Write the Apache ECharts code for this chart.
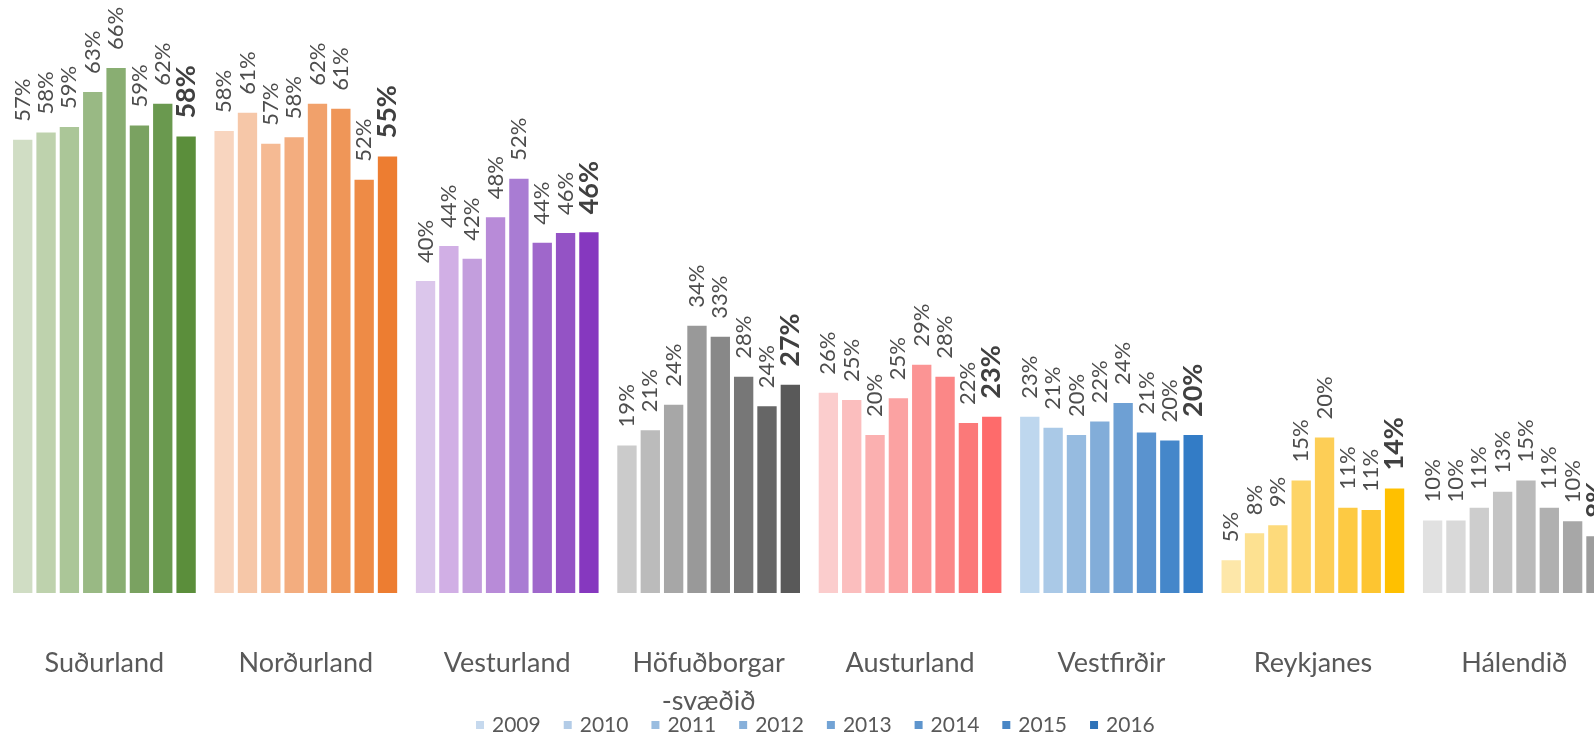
<!DOCTYPE html>
<html>
<head>
<meta charset="utf-8">
<script src="https://cdn.jsdelivr.net/npm/echarts@6/dist/echarts.min.js"></script>
<style>
html,body{margin:0;padding:0;background:#fff;overflow:hidden;width:1594px;height:736px;}
#chart{width:1615px;height:736px;}
</style>
</head>
<body>
<div id="chart"></div>
<script>
// ---- data ----
const categories = ['Suðurland','Norðurland','Vesturland','Höfuðborgar-svæðið','Austurland','Vestfirðir','Reykjanes','Hálendið'];
const years = ['2009','2010','2011','2012','2013','2014','2015','2016'];
// values (%) per region, 2009..2016
const sudurland   = [57.3, 58.2, 58.9, 63.3, 66.3, 59.1, 61.8, 57.7];
const nordurland  = [58.4, 60.7, 56.8, 57.6, 61.8, 61.2, 52.3, 55.2];
const vesturland  = [39.6, 44.0, 42.4, 47.6, 52.4, 44.4, 45.6, 45.7];
const hofudborg   = [19.0, 20.9, 24.1, 34.0, 32.6, 27.6, 23.9, 26.6];
const austurland  = [25.6, 24.7, 20.3, 24.9, 29.1, 27.6, 21.8, 22.6];
const vestfirdir  = [22.6, 21.2, 20.3, 22.0, 24.3, 20.6, 19.6, 20.3];
const reykjanes   = [4.6, 8.0, 9.0, 14.6, 20.0, 11.2, 10.9, 13.6];
const halendid    = [9.6, 9.6, 11.2, 13.2, 14.6, 11.2, 9.5, 7.6];
const regionValues = [sudurland, nordurland, vesturland, hofudborg, austurland, vestfirdir, reykjanes, halendid];

// ---- styles ----
const palettes = [
  ['#d0ddc4','#bed2ad','#abc698','#99b984','#89ae72','#7aa261','#6a994f','#5b8e3b'],
  ['#f8d5bf','#f6c7a8','#f5ba93','#f3ad7f','#f1a16b','#ef9658','#ee8b46','#ed7d31'],
  ['#dbc6eb','#d1afe5','#c39edd','#b88bd8','#a97cd3','#9f67cb','#9453c5','#8638bf'],
  ['#cbcbcb','#bbbbbb','#a7a7a7','#999999','#888888','#777777','#666666','#595959'],
  ['#fbcdcd','#fbbebe','#fbb0b0','#fba2a2','#fb9494','#fb8787','#fb7979','#fe6b6b'],
  ['#bed7ee','#aac9e7','#96bbe0','#82add9','#6ea0d4','#5a93cf','#4587ca','#337cc6'],
  ['#fde7a9','#fde191','#fdda7b','#fdd467','#fdce56','#fdca43','#fdc531','#ffc000'],
  ['#e1e1e1','#d9d9d9','#cdcdcd','#c4c4c4','#bababa','#b0b0b0','#a7a7a7','#9d9d9d']
];
const legendColors = ['#c6d9ee','#b3cce7','#9abde0','#87b0da','#72a3d5','#5e95cd','#4886c5','#2f73b8'];

const series = years.map((y, yi) => ({
  name: y,
  type: 'bar',
  barGap: '0%',
  barCategoryGap: '7.3%',
  itemStyle: { color: legendColors[yi], borderColor: '#ffffff', borderWidth: 2 },
  label: {
    show: true,
    position: 'top',
    rotate: 90,
    align: 'left',
    verticalAlign: 'middle',
    distance: 16,
    fontFamily: 'Lato',
    fontSize: yi === 7 ? 27 : 22,
    fontWeight: yi === 7 ? 'bold' : 'normal',
    color: yi === 7 ? '#404040' : '#4d4d4d',
    formatter: p => Math.round(p.value) + '%'
  },
  data: regionValues.map((vals, ci) => ({
    value: vals[yi],
    itemStyle: { color: palettes[ci][yi] }
  }))
}));

const chart = echarts.init(document.getElementById('chart'), null, { renderer: 'canvas' });
chart.setOption({
  animation: false,
  backgroundColor: '#ffffff',
  grid: { left: 3.7, right: 0, top: 4.5, bottom: 141 },
  xAxis: {
    type: 'category',
    data: categories,
    axisLine: { show: false },
    axisTick: { show: false },
    axisLabel: {
      margin: 49,
      fontFamily: 'Lato',
      fontSize: 27,
      lineHeight: 38,
      color: '#595959',
      interval: 0,
      formatter: v => v.replace('-', '\n-')
    }
  },
  yAxis: { type: 'value', min: 0, max: 74, show: false, splitLine: { show: false } },
  legend: {
    data: years,
    left: 474,
    top: 713,
    padding: 0,
    itemWidth: 10,
    itemHeight: 10,
    itemGap: 21,
    icon: 'rect',
    textStyle: { fontFamily: 'Lato', fontSize: 21, color: '#595959', padding: [0, 0, 0, 2], lineHeight: 24 }
  },
  series: series
});
</script>
</body>
</html>
